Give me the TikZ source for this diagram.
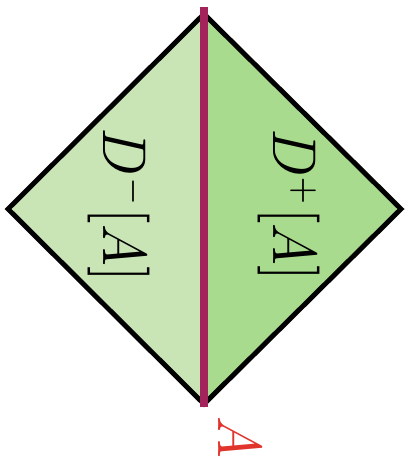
\documentclass[tikz,border=0pt]{standalone}
\usepackage{amsmath,amssymb}
\usepackage{graphicx}
\usepackage{xcolor}
\usepackage{tikz}
\usetikzlibrary{calc}
\definecolor{past}{HTML}{C9E5B6}
\definecolor{future}{HTML}{A9DB8E}
\definecolor{slice}{HTML}{A2245A}
\definecolor{tag}{HTML}{E0342C}
% text is set at 10pt and blown up; reading direction a little narrower
\newcommand{\blowup}[1]{\scalebox{3.96}[4.4]{#1}}
\tikzset{
  edge/.style={draw=black, line width=3.5pt, line join=miter},
  cut/.style={draw=slice, line width=5pt},
  dom/.style={rotate=-90, anchor=base, inner sep=0pt},
  lbl/.style={dom, text=tag},
}
\begin{document}
\begin{tikzpicture}[x=0.025cm, y=-0.025cm]
  \useasboundingbox (0,0) rectangle (408,459);
  % corners of the diamond
  \coordinate (top) at (204,14);
  \coordinate (bot) at (204,404);
  \coordinate (lft) at (8,209);
  \coordinate (rgt) at (401,209);

  \fill[past]   (top) -- (lft) -- (bot) -- cycle;
  \fill[future] (top) -- (rgt) -- (bot) -- cycle;
  \draw[edge] (top) -- (lft) -- (bot) -- (rgt) -- cycle;

  % the slice A through the middle
  \coordinate (atop) at (204,7);
  \coordinate (abot) at (204,407);
  \draw[cut] (atop) -- (abot);

  \node[dom] (dm) at (103,205) {\blowup{$D^{\scriptscriptstyle -}[A]$}};
  \node[dom] (dp) at (273,205) {\blowup{$D^{\scriptscriptstyle +}[A]$}};
  \node[lbl] (a) at (218,437) {\blowup{$A$}};
\end{tikzpicture}
\end{document}
